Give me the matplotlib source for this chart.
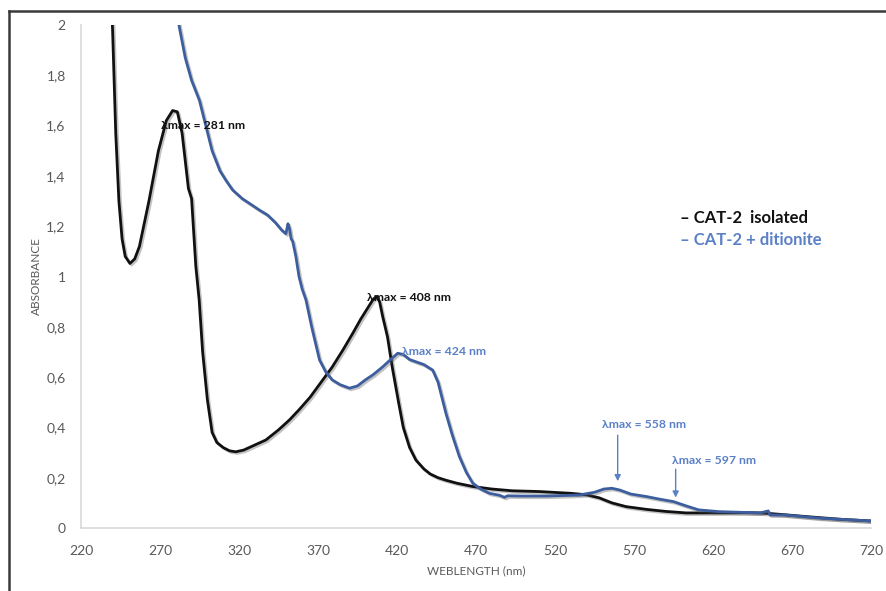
import matplotlib
matplotlib.use("Agg")
import matplotlib.pyplot as plt
import matplotlib.patheffects as pe
from matplotlib.lines import Line2D
import numpy as np

# ---- data ----
wl_isolated = [238, 240, 242, 244, 246, 248, 251, 254, 257, 263, 269, 274, 278, 281, 284, 288,
               290, 292.7, 294.8, 297, 300, 303, 306, 310, 314, 318, 323, 330, 337, 345, 352,
               358, 365, 372, 379, 386, 392, 397, 401, 405, 407, 409, 411, 414, 417, 421, 424,
               428, 432, 437, 441, 446, 451, 458, 468, 480, 493, 510, 530, 540, 548, 556, 565,
               578, 590, 603, 620, 640, 650, 655, 665, 680, 700, 720]
abs_isolated = [2.3, 1.98, 1.57, 1.30, 1.15, 1.08, 1.052, 1.07, 1.12, 1.30, 1.50, 1.62, 1.66, 1.655,
                1.57, 1.35, 1.31, 1.04, 0.907, 0.70, 0.51, 0.38, 0.34, 0.32, 0.307, 0.303, 0.31,
                0.33, 0.35, 0.39, 0.43, 0.47, 0.52, 0.58, 0.64, 0.71, 0.774, 0.83, 0.87, 0.91,
                0.92, 0.90, 0.84, 0.76, 0.64, 0.50, 0.40, 0.32, 0.27, 0.235, 0.215, 0.20, 0.19,
                0.178, 0.165, 0.155, 0.148, 0.145, 0.138, 0.132, 0.12, 0.10, 0.085, 0.074, 0.066,
                0.06, 0.06, 0.061, 0.06, 0.058, 0.053, 0.045, 0.035, 0.028]

wl_ditionite = [279, 282, 286, 290, 295, 299, 303, 308, 312, 316, 322, 328, 333, 338, 343, 347,
                349.7, 351, 352, 353, 354, 356, 358, 360, 362.4, 366, 371, 375, 379, 384, 390,
                395, 400, 405, 411, 416, 420.5, 424, 428, 432, 437, 442.6, 446, 451, 455, 459.5,
                464, 468, 473, 478.5, 485, 488, 490, 500, 514.5, 535, 545, 551, 556, 561, 568,
                578, 586, 595, 603, 611, 624, 640, 650, 655, 656, 665, 688, 720]
abs_ditionite = [2.15, 2.0, 1.87, 1.78, 1.70, 1.60, 1.50, 1.42, 1.38, 1.344, 1.31, 1.285, 1.264,
                 1.245, 1.215, 1.185, 1.17, 1.21, 1.19, 1.15, 1.14, 1.08, 1.00, 0.95, 0.907, 0.80,
                 0.668, 0.62, 0.589, 0.57, 0.556, 0.565, 0.589, 0.61, 0.641, 0.67, 0.695, 0.69,
                 0.67, 0.661, 0.65, 0.628, 0.58, 0.456, 0.37, 0.284, 0.22, 0.178, 0.155, 0.138,
                 0.13, 0.122, 0.128, 0.127, 0.127, 0.131, 0.142, 0.155, 0.158, 0.151, 0.135,
                 0.125, 0.115, 0.105, 0.088, 0.072, 0.065, 0.062, 0.06, 0.068, 0.052, 0.052,
                 0.039, 0.028]

series_labels = ["CAT-2  isolated", "CAT-2 + ditionite"]
x_ticks = [220, 270, 320, 370, 420, 470, 520, 570, 620, 670, 720]
y_ticks = [0, 0.2, 0.4, 0.6, 0.8, 1.0, 1.2, 1.4, 1.6, 1.8, 2.0]
y_tick_labels = ["0", "0,2", "0,4", "0,6", "0,8", "1", "1,2", "1,4", "1,6", "1,8", "2"]

peak_labels = ["λmax = 281 nm", "λmax = 408 nm", "λmax = 424 nm", "λmax = 558 nm", "λmax = 597 nm"]

# ---- styling ----
plt.rcParams['font.family'] = ['Lato', 'DejaVu Sans']
BLACK = '#111111'
BLUE_LINE = '#3d5e9e'
BLUE_TXT = '#5b80c6'
GRAY = '#595959'

fig = plt.figure(figsize=(8.86, 5.91), dpi=100)
ax = fig.add_axes([0.0914, 0.1066, 0.8916, 0.851])

shadow = [pe.SimpleLineShadow(offset=(1.2, -1.2), alpha=0.35, shadow_color='#555555'), pe.Normal()]
ax.plot(wl_isolated, abs_isolated, color=BLACK, lw=2.0, path_effects=shadow, clip_on=True)
ax.plot(wl_ditionite, abs_ditionite, color=BLUE_LINE, lw=2.0, path_effects=shadow, clip_on=True)

ax.set_xlim(220, 720)
ax.set_ylim(0, 2)
ax.set_xticks(x_ticks)
ax.set_xticklabels([str(t) for t in x_ticks])
ax.set_yticks(y_ticks)
ax.set_yticklabels(y_tick_labels)
ax.tick_params(axis='both', length=0, labelsize=10, labelcolor=GRAY)
ax.tick_params(axis='x', pad=12)
ax.tick_params(axis='y', pad=11)
for s in ['top', 'right']:
    ax.spines[s].set_visible(False)
for s in ['left', 'bottom']:
    ax.spines[s].set_color('#d9d9d9')
    ax.spines[s].set_linewidth(1.2)

ax.set_xlabel("WEBLENGTH (nm)", fontsize=8.5, color=GRAY, labelpad=6)
ax.set_ylabel("ABSORBANCE", fontsize=8.5, color=GRAY, labelpad=3)

# ---- annotations ----
fs = 8.8
ax.text(270.5, 1.60, peak_labels[0], fontsize=fs, fontweight='bold', color=BLACK, va='center', ha='left')
ax.text(401, 0.915, peak_labels[1], fontsize=fs, fontweight='bold', color=BLACK, va='center', ha='left')
ax.text(423.4, 0.70, peak_labels[2], fontsize=fs, fontweight='bold', color=BLUE_TXT, va='center', ha='left')
ax.text(550, 0.41, peak_labels[3], fontsize=fs, fontweight='bold', color=BLUE_TXT, va='center', ha='left')
ax.text(594, 0.27, peak_labels[4], fontsize=fs, fontweight='bold', color=BLUE_TXT, va='center', ha='left')

arrow_kw = dict(arrowstyle='-|>', color=BLUE_TXT, lw=1.0, mutation_scale=9)
ax.annotate('', xy=(559.7, 0.175), xytext=(559.7, 0.38), arrowprops=arrow_kw)
ax.annotate('', xy=(596.4, 0.11), xytext=(596.4, 0.245), arrowprops=arrow_kw)

# ---- legend (text style) ----
ax.text(680 / 886, 1 - 218 / 591, "– " + series_labels[0], transform=fig.transFigure, fontsize=12,
        fontweight='bold', color=BLACK, va='center', ha='left')
ax.text(680 / 886, 1 - 240 / 591, "– " + series_labels[1], transform=fig.transFigure, fontsize=12,
        fontweight='bold', color=BLUE_TXT, va='center', ha='left')

# ---- outer frame (left and top edges) ----
fx0 = 8.5 / 886
fy0 = 1 - 10.5 / 591
fig.add_artist(Line2D([fx0, 1.0], [fy0, fy0], transform=fig.transFigure, color='#3a3a3a', lw=1.8))
fig.add_artist(Line2D([fx0, fx0], [0.0, fy0], transform=fig.transFigure, color='#3a3a3a', lw=1.8))

fig.savefig("out.png", dpi=100)
